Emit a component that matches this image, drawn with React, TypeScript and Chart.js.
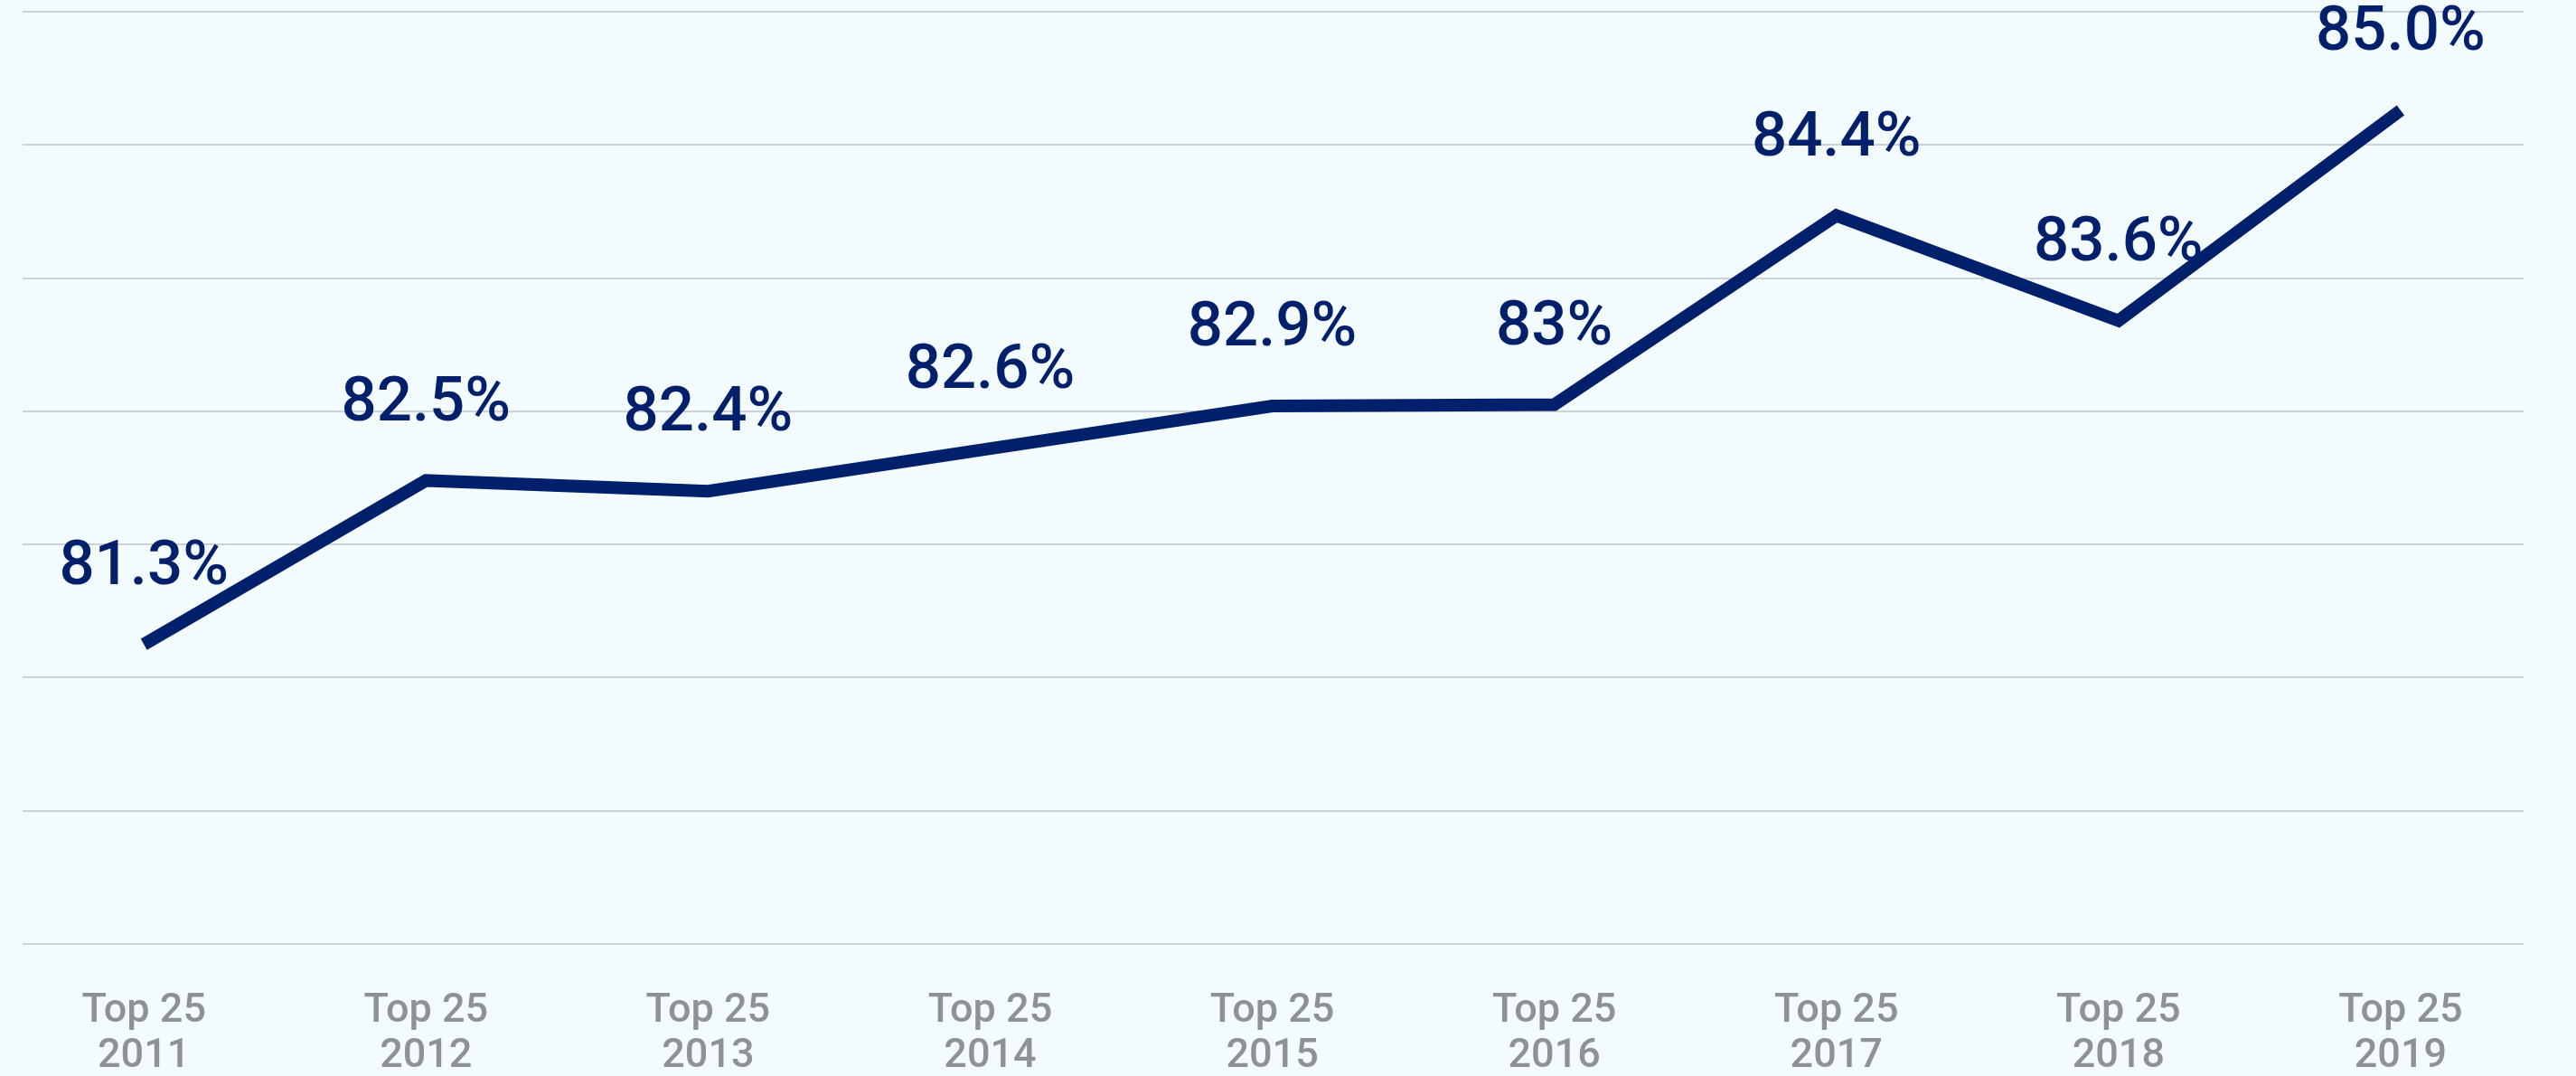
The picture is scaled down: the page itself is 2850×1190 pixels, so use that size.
import React, { useEffect, useRef } from "react";
import { Chart, registerables } from "chart.js";

Chart.register(...registerables);

// ---- data ----
const categories: string[] = ["2011", "2012", "2013", "2014", "2015", "2016", "2017", "2018", "2019"];
const tickPrefix = "Top 25";
const values: number[] = [81.25, 82.48, 82.4, 82.72, 83.04, 83.05, 84.47, 83.68, 85.26];
const valueLabels: string[] = ["81.3%", "82.5%", "82.4%", "82.6%", "82.9%", "83%", "84.4%", "83.6%", "85.0%"];
const yTicks: number[] = [79, 80, 81, 82, 83, 84, 85, 86];

const NAVY = "#00206B";
const GRAY_TEXT = "#8E9196";
const GRID = "#CDD1D5";
const BG = "#F4FBFF";

const labelPlugin = {
  id: "valueLabels",
  afterDatasetsDraw(chart: any) {
    const meta = chart.getDatasetMeta(0);
    const ctx = chart.ctx;
    ctx.save();
    ctx.font = "500 69px Roboto";
    ctx.fillStyle = NAVY;
    ctx.textAlign = "center";
    ctx.textBaseline = "middle";
    meta.data.forEach((pt: any, i: number) => {
      ctx.fillText(valueLabels[i], pt.x, pt.y - 84);
    });
    ctx.restore();
  },
};

export default function App() {
  const canvasRef = useRef<HTMLCanvasElement | null>(null);

  useEffect(() => {
    document.body.style.margin = "0";
    const canvas = canvasRef.current;
    if (!canvas) return;
    const chart = new Chart(canvas, {
      type: "line",
      data: {
        datasets: [
          {
            data: categories.map((_, i) => ({ x: i, y: values[i] })),
            borderColor: NAVY,
            borderWidth: 14,
            pointRadius: 0,
            pointHoverRadius: 0,
            tension: 0,
            fill: false,
            borderJoinStyle: "miter",
            borderCapStyle: "butt",
          } as any,
        ],
      },
      options: {
        animation: false,
        responsive: false,
        maintainAspectRatio: false,
        events: [],
        layout: { padding: { left: 25, right: 58, top: 13, bottom: 0 } },
        plugins: {
          legend: { display: false },
          tooltip: { enabled: false },
        },
        scales: {
          x: {
            type: "linear",
            min: -0.43,
            max: 8.436,
            grid: { display: false, drawTicks: false },
            border: { display: false },
            afterBuildTicks: (s: any) => {
              s.ticks = categories.map((_, i) => ({ value: i }));
            },
            afterFit: (s: any) => {
              s.height = 146;
            },
            ticks: {
              autoSkip: false,
              maxRotation: 0,
              padding: 50,
              color: GRAY_TEXT,
              font: { family: "Roboto", size: 45, weight: "500", lineHeight: 1.1 },
              callback: (_v: any, i: number) => [tickPrefix, categories[i]],
            },
          },
          y: {
            min: 79,
            max: 86,
            afterBuildTicks: (s: any) => {
              s.ticks = yTicks.map((v) => ({ value: v }));
            },
            ticks: { display: false },
            grid: { color: GRID, lineWidth: 2, drawTicks: false },
            border: { display: false },
          },
        },
      } as any,
      plugins: [labelPlugin],
    });
    return () => chart.destroy();
  }, []);

  return (
    <div style={{ width: 2850, height: 1190, background: BG }}>
      <canvas ref={canvasRef} width={2850} height={1190} style={{ display: "block" }} />
    </div>
  );
}
